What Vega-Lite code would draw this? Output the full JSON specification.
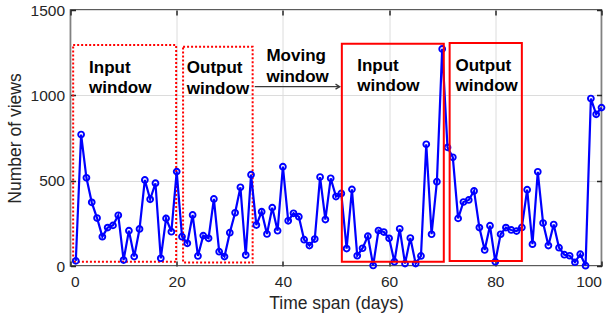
{
  "$schema": "https://vega.github.io/schema/vega-lite/v6.json",
  "width": 531,
  "height": 256,
  "autosize": {"type": "none"},
  "padding": {"left": 70.5, "top": 10, "right": 14.5, "bottom": 56},
  "config": {
    "view": {"stroke": "#262626", "strokeWidth": 1.5},
    "font": "Liberation Sans",
    "axis": {"labelFont": "Liberation Sans", "titleFont": "Liberation Sans", "labelColor": "#262626", "titleColor": "#262626", "titleFontWeight": "normal", "labelFontSize": 15.5, "titleFontSize": 17.5, "gridColor": "#dcdcdc", "gridWidth": 1, "domain": false, "tickColor": "#262626", "tickWidth": 1.5, "tickSize": -5}
  },
  "datasets": {
    "views": [
      {"day": 1, "views": 30}, {"day": 2, "views": 770}, {"day": 3, "views": 517}, {"day": 4, "views": 373}, {"day": 5, "views": 281},
      {"day": 6, "views": 172}, {"day": 7, "views": 225}, {"day": 8, "views": 238}, {"day": 9, "views": 297}, {"day": 10, "views": 35},
      {"day": 11, "views": 207}, {"day": 12, "views": 55}, {"day": 13, "views": 217}, {"day": 14, "views": 504}, {"day": 15, "views": 391},
      {"day": 16, "views": 485}, {"day": 17, "views": 45}, {"day": 18, "views": 279}, {"day": 19, "views": 201}, {"day": 20, "views": 553},
      {"day": 21, "views": 172}, {"day": 22, "views": 133}, {"day": 23, "views": 299}, {"day": 24, "views": 59}, {"day": 25, "views": 178},
      {"day": 26, "views": 162}, {"day": 27, "views": 393}, {"day": 28, "views": 84}, {"day": 29, "views": 55}, {"day": 30, "views": 195},
      {"day": 31, "views": 312}, {"day": 32, "views": 461}, {"day": 33, "views": 64}, {"day": 34, "views": 535}, {"day": 35, "views": 240},
      {"day": 36, "views": 318}, {"day": 37, "views": 188}, {"day": 38, "views": 342}, {"day": 39, "views": 207}, {"day": 40, "views": 582},
      {"day": 41, "views": 265}, {"day": 42, "views": 309}, {"day": 43, "views": 289}, {"day": 44, "views": 154}, {"day": 45, "views": 120},
      {"day": 46, "views": 158}, {"day": 47, "views": 521}, {"day": 48, "views": 272}, {"day": 49, "views": 514}, {"day": 50, "views": 407},
      {"day": 51, "views": 425}, {"day": 52, "views": 102}, {"day": 53, "views": 449}, {"day": 54, "views": 60}, {"day": 55, "views": 104},
      {"day": 56, "views": 175}, {"day": 57, "views": 3}, {"day": 58, "views": 208}, {"day": 59, "views": 199}, {"day": 60, "views": 162},
      {"day": 61, "views": 25}, {"day": 62, "views": 218}, {"day": 63, "views": 14}, {"day": 64, "views": 164}, {"day": 65, "views": 14},
      {"day": 66, "views": 59}, {"day": 67, "views": 713}, {"day": 68, "views": 186}, {"day": 69, "views": 494}, {"day": 70, "views": 1272},
      {"day": 71, "views": 695}, {"day": 72, "views": 637}, {"day": 73, "views": 279}, {"day": 74, "views": 375}, {"day": 75, "views": 387},
      {"day": 76, "views": 440}, {"day": 77, "views": 225}, {"day": 78, "views": 94}, {"day": 79, "views": 236}, {"day": 80, "views": 25},
      {"day": 81, "views": 186}, {"day": 82, "views": 225}, {"day": 83, "views": 211}, {"day": 84, "views": 205}, {"day": 85, "views": 226},
      {"day": 86, "views": 447}, {"day": 87, "views": 128}, {"day": 88, "views": 552}, {"day": 89, "views": 252}, {"day": 90, "views": 120},
      {"day": 91, "views": 243}, {"day": 92, "views": 107}, {"day": 93, "views": 66}, {"day": 94, "views": 60}, {"day": 95, "views": 22},
      {"day": 96, "views": 69}, {"day": 97, "views": 2}, {"day": 98, "views": 981}, {"day": 99, "views": 889}, {"day": 100, "views": 928}
    ],
    "windows": [
      {"kind": "Input", "round": 1, "start": 0.5, "end": 19.9, "low": 25, "high": 1295},
      {"kind": "Output", "round": 1, "start": 21.2, "end": 34.3, "low": 20, "high": 1285},
      {"kind": "Input", "round": 2, "start": 51.1, "end": 70.3, "low": 25, "high": 1302},
      {"kind": "Output", "round": 2, "start": 71.4, "end": 85.0, "low": 29, "high": 1306}
    ],
    "labels": [
      {"label": "Input\nwindow", "day": 3.5, "views": 1133},
      {"label": "Output\nwindow", "day": 21.9, "views": 1130},
      {"label": "Input\nwindow", "day": 54.0, "views": 1143},
      {"label": "Output\nwindow", "day": 72.5, "views": 1145},
      {"label": "Moving\nwindow", "day": 36.9, "views": 1201}
    ],
    "arrow": [
      {"from": 34.7, "to": 50.7, "views": 1051}
    ]
  },
  "layer": [
    {
      "data": {"name": "windows"},
      "transform": [{"filter": "datum.round == 1"}],
      "mark": {"type": "rect", "filled": false, "stroke": "#ff0000", "strokeWidth": 2, "strokeDash": [2, 2]},
      "encoding": {
        "x": {"field": "start", "type": "quantitative", "scale": {"domain": [0, 100], "nice": false, "zero": false},
              "axis": {"orient": "top", "values": [0, 20, 40, 60, 80, 100], "labels": false, "grid": false, "title": null}},
        "x2": {"field": "end"},
        "y": {"field": "low", "type": "quantitative", "scale": {"domain": [0, 1500], "nice": false},
              "axis": {"orient": "right", "values": [0, 500, 1000, 1500], "labels": false, "grid": false, "title": null}},
        "y2": {"field": "high"}
      }
    },
    {
      "data": {"name": "views"},
      "mark": {"type": "line", "color": "#0000ff", "strokeWidth": 2.2},
      "encoding": {
        "x": {"field": "day", "type": "quantitative",
              "axis": {"orient": "bottom", "values": [0, 20, 40, 60, 80, 100], "grid": true, "title": "Time span (days)", "labelPadding": 13, "titlePadding": 5}},
        "y": {"field": "views", "type": "quantitative",
              "axis": {"orient": "left", "values": [0, 500, 1000, 1500], "format": "d", "grid": true, "title": "Number of views", "labelPadding": 11, "titlePadding": 6}}
      }
    },
    {
      "data": {"name": "views"},
      "mark": {"type": "point", "shape": "circle", "filled": false, "stroke": "#0000ff", "strokeWidth": 1.9, "size": 34, "opacity": 1},
      "encoding": {
        "x": {"field": "day", "type": "quantitative", "axis": null},
        "y": {"field": "views", "type": "quantitative", "axis": null}
      }
    },
    {
      "data": {"name": "windows"},
      "transform": [{"filter": "datum.round == 2"}],
      "mark": {"type": "rect", "filled": false, "stroke": "#ff0000", "strokeWidth": 2},
      "encoding": {
        "x": {"field": "start", "type": "quantitative", "axis": null},
        "x2": {"field": "end"},
        "y": {"field": "low", "type": "quantitative", "axis": null},
        "y2": {"field": "high"}
      }
    },
    {
      "data": {"name": "labels"},
      "mark": {"type": "text", "align": "left", "baseline": "alphabetic", "lineBreak": "\n", "lineHeight": 20.5, "fontSize": 17, "fontWeight": "bold", "font": "Liberation Sans", "color": "#000000"},
      "encoding": {
        "x": {"field": "day", "type": "quantitative", "axis": null},
        "y": {"field": "views", "type": "quantitative", "axis": null},
        "text": {"field": "label"}
      }
    },
    {
      "data": {"name": "arrow"},
      "mark": {"type": "rule", "color": "#3a3a3a", "strokeWidth": 1.3},
      "encoding": {
        "x": {"field": "from", "type": "quantitative", "axis": null},
        "x2": {"field": "to"},
        "y": {"field": "views", "type": "quantitative", "axis": null}
      }
    },
    {
      "data": {"name": "arrow"},
      "mark": {"type": "point", "shape": "M-1,-0.6L0,0L-1,0.6", "filled": false, "stroke": "#3a3a3a", "strokeWidth": 1.3, "size": 70, "opacity": 1},
      "encoding": {
        "x": {"field": "to", "type": "quantitative", "axis": null},
        "y": {"field": "views", "type": "quantitative", "axis": null}
      }
    }
  ],
  "resolve": {"axis": {"x": "independent", "y": "independent"}}
}
